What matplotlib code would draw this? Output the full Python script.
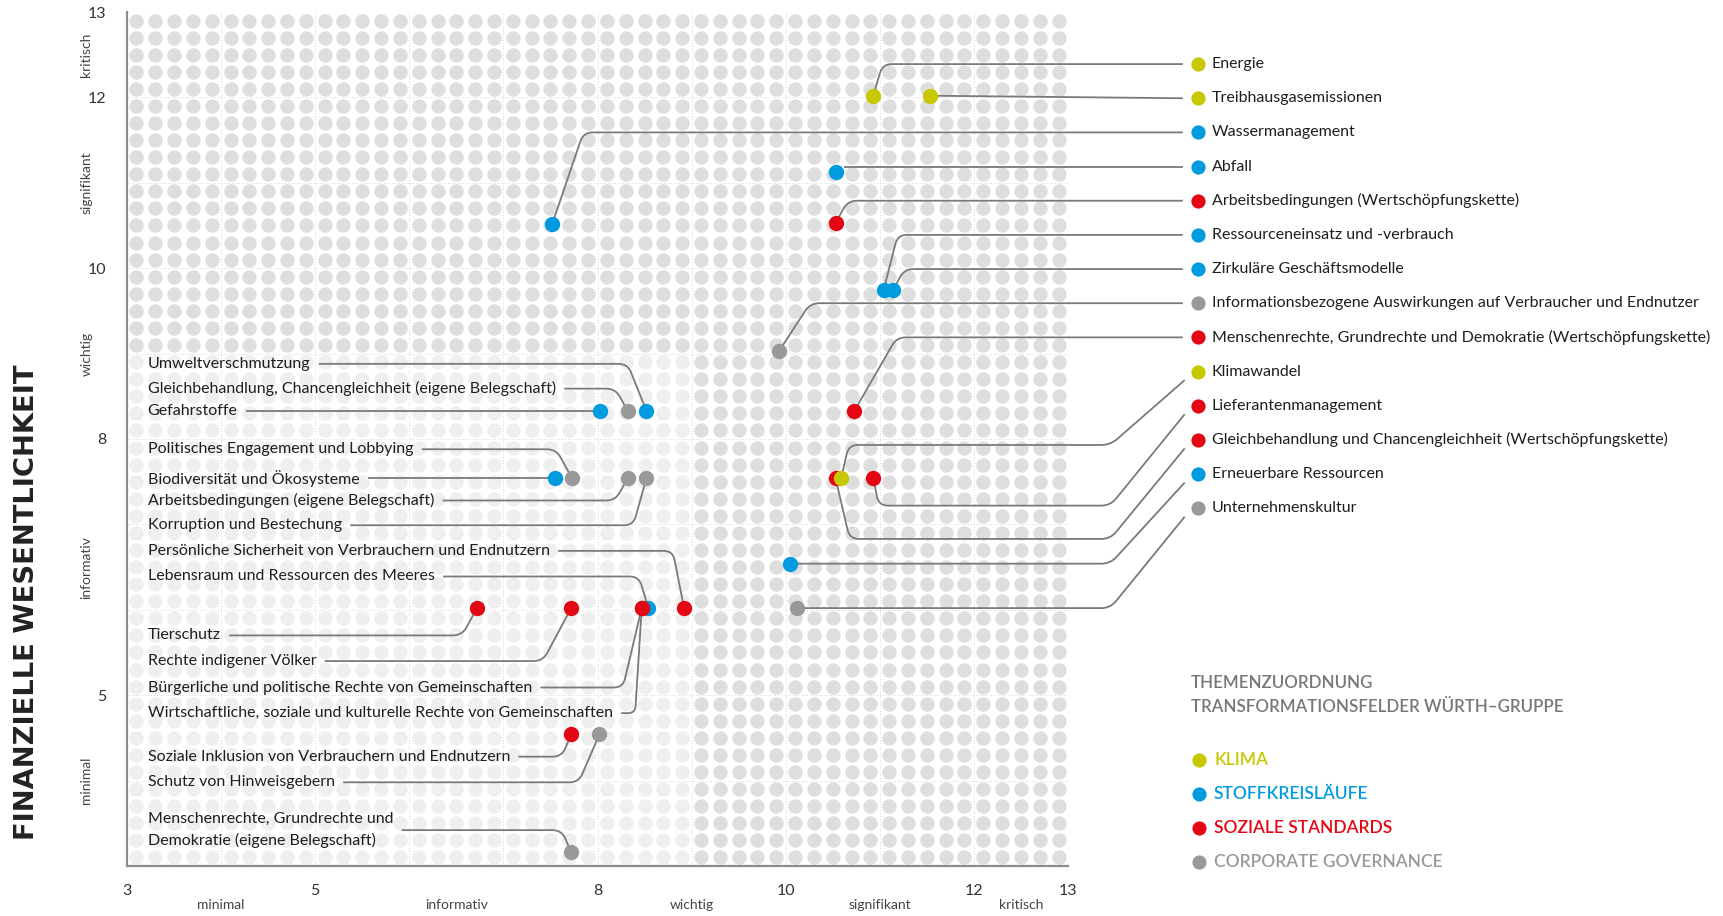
import numpy as np
import matplotlib
matplotlib.use("Agg")
import matplotlib.pyplot as plt
from matplotlib.path import Path
from matplotlib.patches import PathPatch

plt.rcParams['font.family'] = ['Lato', 'DejaVu Sans']

# ---------------- data ----------------
categories = ["KLIMA", "STOFFKREISLÄUFE", "SOZIALE STANDARDS", "CORPORATE GOVERNANCE"]
category_colors = ["#c8c800", "#009bde", "#e30613", "#999999"]

right_topics = [
    "Energie",
    "Treibhausgasemissionen",
    "Wassermanagement",
    "Abfall",
    "Arbeitsbedingungen (Wertschöpfungskette)",
    "Ressourceneinsatz und -verbrauch",
    "Zirkuläre Geschäftsmodelle",
    "Informationsbezogene Auswirkungen auf Verbraucher und Endnutzer",
    "Menschenrechte, Grundrechte und Demokratie (Wertschöpfungskette)",
    "Klimawandel",
    "Lieferantenmanagement",
    "Gleichbehandlung und Chancengleichheit (Wertschöpfungskette)",
    "Erneuerbare Ressourcen",
    "Unternehmenskultur",
]
right_impact = [10.93, 11.53, 7.52, 10.53, 10.53, 11.04, 11.14, 9.93, 10.73, 10.59, 10.93, 10.53, 10.05, 10.12]
right_financial = [12.02, 12.02, 10.52, 11.13, 10.53, 9.74, 9.74, 9.03, 8.33, 7.54, 7.54, 7.54, 6.54, 6.02]
right_cat = [0, 0, 1, 1, 2, 1, 1, 3, 2, 0, 2, 2, 1, 3]

left_topics = [
    "Umweltverschmutzung",
    "Gleichbehandlung, Chancengleichheit (eigene Belegschaft)",
    "Gefahrstoffe",
    "Politisches Engagement und Lobbying",
    "Biodiversität und Ökosysteme",
    "Arbeitsbedingungen (eigene Belegschaft)",
    "Korruption und Bestechung",
    "Persönliche Sicherheit von Verbrauchern und Endnutzern",
    "Lebensraum und Ressourcen des Meeres",
    "Tierschutz",
    "Rechte indigener Völker",
    "Bürgerliche und politische Rechte von Gemeinschaften",
    "Wirtschaftliche, soziale und kulturelle Rechte von Gemeinschaften",
    "Soziale Inklusion von Verbrauchern und Endnutzern",
    "Schutz von Hinweisgebern",
    "Menschenrechte, Grundrechte und\nDemokratie (eigene Belegschaft)",
]
left_impact = [8.52, 8.32, 8.03, 7.73, 7.55, 8.32, 8.52, 8.92, 8.54, 6.72, 7.72, 8.47, 8.47, 7.72, 8.02, 7.72]
left_financial = [8.33, 8.33, 8.33, 7.54, 7.54, 7.54, 7.54, 6.02, 6.02, 6.02, 6.02, 6.02, 6.02, 4.54, 4.54, 3.16]
left_cat = [1, 3, 1, 3, 1, 3, 3, 2, 1, 2, 2, 2, 2, 2, 3, 3]

x_ticks = [3, 5, 8, 10, 12, 13]
y_ticks = [5, 8, 10, 12, 13]
level_names = ["minimal", "informativ", "wichtig", "signifikant", "kritisch"]
level_centers = [4, 6.5, 9, 11, 12.5]

legend_title = ["THEMENZUORDNUNG", "TRANSFORMATIONSFELDER WÜRTH–GRUPPE"]
y_title = "FINANZIELLE WESENTLICHKEIT"

# ---------------- layout (label placement / leader routing) ----------------
right_label_y = [12.39 - 0.4 * i for i in range(len(right_topics))]
right_bend_dx = [0.1, 0, 0.33, 0.06, 0.13, 0.15, 0.12, 0.33, 0.45, 0.08, 0.06, 0.15, 0, 0]
right_elbow_y = [None] * 9 + [7.93, 7.22, 6.83, None, None]

left_label_y = [8.88, 8.59, 8.33, 7.88, 7.54, 7.28, 6.99, 6.69, 6.39,
                5.70, 5.40, 5.09, 4.79, 4.28, 3.98, 3.42]
left_bend_dx = [0.2, 0.13, 0, 0.17, 0, 0.13, 0.14, 0.12, 0.1,
                0.16, 0.3, 0.2, 0.07, 0.1, 0.22, 0.1]

W, H, DPI = 1723, 916, 100
fig = plt.figure(figsize=(W / DPI, H / DPI), dpi=DPI)
ax = fig.add_axes([127 / W, 50 / H, (1068 - 127) / W, (866 - 12) / H])
ax.set_xlim(3, 13)
ax.set_ylim(3, 13)
renderer = fig.canvas.get_renderer()

# background dot matrix
g = np.arange(3.1, 13.0, 0.2)
GX, GY = np.meshgrid(g, g)
light = (GX < 9) & (GY < 9)
ax.scatter(GX[light], GY[light], s=108, color="#efefef", linewidths=0, zorder=1)
ax.scatter(GX[~light], GY[~light], s=108, color="#dedede", linewidths=0, zorder=1)
for v in range(4, 13):
    ax.axvline(v, color="#d6d6d6", lw=0.7, ls=(0, (1, 2)), zorder=0.5)
    ax.axhline(v, color="#d6d6d6", lw=0.7, ls=(0, (1, 2)), zorder=0.5)

for s in ["top", "right"]:
    ax.spines[s].set_visible(False)
for s in ["left", "bottom"]:
    ax.spines[s].set_color("#8c8c8c")
    ax.spines[s].set_linewidth(1.6)

ax.set_xticks(x_ticks)
ax.set_xticklabels([str(t) for t in x_ticks], fontsize=11.5, color="#333333")
ax.set_yticks(y_ticks)
ax.set_yticklabels([str(t) for t in y_ticks], fontsize=11.5, color="#333333")
ax.set_xticks(level_centers, minor=True)
ax.set_xticklabels(level_names, minor=True, fontsize=10, color="#444444")
ax.set_yticks(level_centers, minor=True)
ax.set_yticklabels(level_names, minor=True, fontsize=10, color="#444444", rotation=90, va="center")
ax.tick_params(axis="x", which="major", length=0, pad=13)
ax.tick_params(axis="x", which="minor", length=0, pad=24)
ax.tick_params(axis="y", which="major", length=0, pad=15)
ax.tick_params(axis="y", which="minor", length=0, pad=25)

# vertical axis title
fig.text(27 / W, 1 - 602 / H, y_title, rotation=90, ha="center", va="center",
         fontsize=19.7, fontweight="bold", color="#222222", family=["DejaVu Sans"])

LINE_C = "#7a7a7a"
LW = 1.3


def rounded(points, r_px=9):
    d = ax.transData.transform(np.asarray(points, float))
    verts = [d[0]]
    codes = [Path.MOVETO]
    for i in range(1, len(d) - 1):
        p0, p1, p2 = d[i - 1], d[i], d[i + 1]
        v1, v2 = p0 - p1, p2 - p1
        l1, l2 = np.hypot(*v1), np.hypot(*v2)
        r = min(r_px, l1 / 2, l2 / 2)
        a = p1 + v1 / l1 * r
        b = p1 + v2 / l2 * r
        verts += [a, p1, b]
        codes += [Path.LINETO, Path.CURVE3, Path.CURVE3]
    verts.append(d[-1])
    codes.append(Path.LINETO)
    dd = ax.transData.inverted().transform(np.asarray(verts))
    return Path(dd, codes)


def draw_leader(points):
    ax.add_patch(PathPatch(rounded(points), fill=False, edgecolor=LINE_C, lw=LW,
                           clip_on=False, zorder=2, capstyle="butt"))


def draw_point(x, y, c):
    ax.scatter([x], [y], s=122, color=category_colors[c], linewidths=0,
               zorder=3 + 0.1 * [3, 1, 2, 4][c], clip_on=False)


LABEL_FS = 11.5

# right side labels
for i, name in enumerate(right_topics):
    px, py, c = right_impact[i], right_financial[i], right_cat[i]
    ly = right_label_y[i]
    draw_point(px, py, c)
    ax.scatter([14.38], [ly], s=105, color=category_colors[c], linewidths=0,
               clip_on=False, zorder=3)
    ax.text(14.53, ly, name, fontsize=LABEL_FS, color="#1e1e1e", va="center", ha="left",
            clip_on=False)
    if right_elbow_y[i] is None:
        if abs(ly - py) < 0.12:
            pts = [(px + 0.09, ly), (14.22, ly)] if abs(ly - py) > 0.03 else [(px, py), (14.22, ly)]
        else:
            pts = [(px, py), (px + right_bend_dx[i], ly), (14.22, ly)]
        if i >= 12:
            pts = [(px, py), (13.45, py), (14.24, ly - 0.1)]
    else:
        hy = right_elbow_y[i]
        pts = [(px, py), (px + right_bend_dx[i], hy), (13.45, hy), (14.24, ly - 0.1)]
    draw_leader(pts)

# left side labels
inv = ax.transData.inverted()
for j, name in enumerate(left_topics):
    px, py, c = left_impact[j], left_financial[j], left_cat[j]
    ly = left_label_y[j]
    t = ax.text(3.22, ly, name, fontsize=LABEL_FS, color="#1e1e1e", va="center", ha="left",
                zorder=4, linespacing=1.55)
    bb = t.get_window_extent(renderer)
    xe = inv.transform((bb.x1, bb.y0))[0] + 0.09
    draw_point(px, py, c)
    if abs(ly - py) < 0.06:
        pts = [(xe, ly), (px, py)]
    else:
        pts = [(xe, ly), (px - left_bend_dx[j], ly), (px, py)]
    draw_leader(pts)

# legend block
fig.text(1191 / W, 1 - 683 / H, legend_title[0], fontsize=12.2, fontweight="semibold",
         color="#777777", ha="left", va="center")
fig.text(1191 / W, 1 - 707 / H, legend_title[1], fontsize=12.2, fontweight="semibold",
         color="#777777", ha="left", va="center")
for k, (name, col) in enumerate(zip(categories, category_colors)):
    ypx = 760 + 34 * k
    fig.text(1214 / W, 1 - ypx / H, name, fontsize=12.5, fontweight="semibold",
             color=col, ha="left", va="center")
    fig.lines.append(plt.Line2D([1199 / W], [1 - ypx / H], transform=fig.transFigure, marker="o",
                                markersize=10.2, color=col, markeredgewidth=0, ls=""))

fig.savefig("out.png", dpi=DPI)
